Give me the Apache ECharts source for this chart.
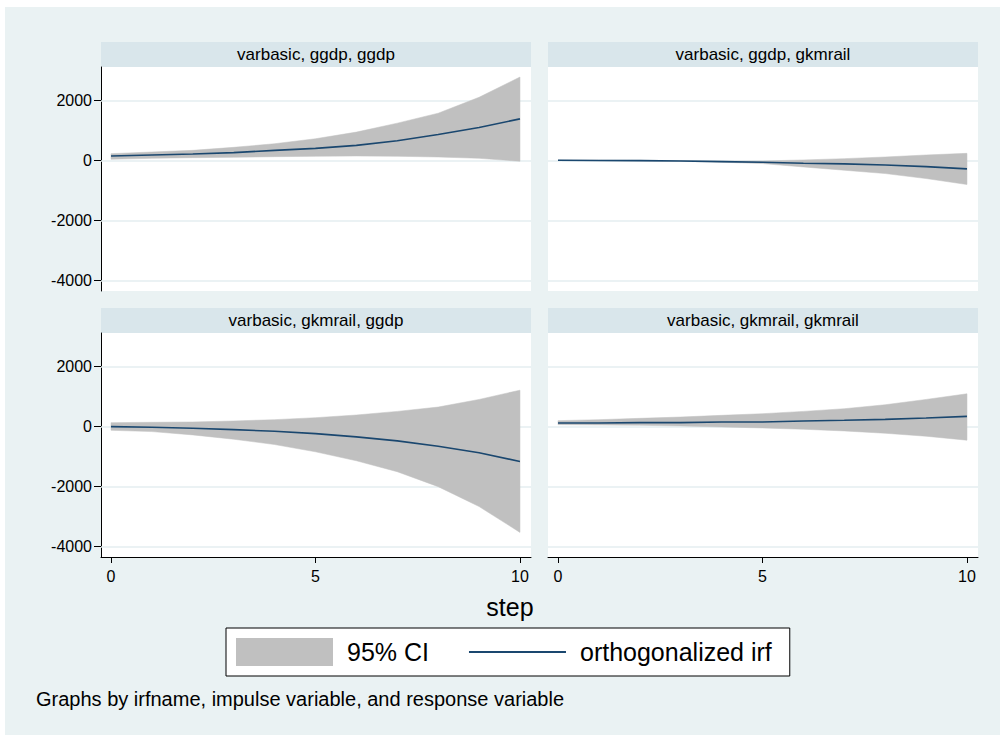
<!DOCTYPE html>
<html>
<head>
<meta charset="utf-8">
<script src="https://cdn.jsdelivr.net/npm/echarts@6/dist/echarts.min.js"></script>
<style>
  html, body { margin: 0; padding: 0; background: #ffffff; }
  #chart { width: 1000px; height: 735px; }
</style>
</head>
<body>
<div id="chart"></div>
<script>
// ---------------- data ----------------
const steps = [0, 1, 2, 3, 4, 5, 6, 7, 8, 9, 10];
const yTickValues = [-4000, -2000, 0, 2000];
const xTickValues = [0, 5, 10];
const panelTitles = [
  'varbasic, ggdp, ggdp',
  'varbasic, ggdp, gkmrail',
  'varbasic, gkmrail, ggdp',
  'varbasic, gkmrail, gkmrail'
];
const legendNames = ['95% CI', 'orthogonalized irf'];
const xTitle = 'step';
const noteText = 'Graphs by irfname, impulse variable, and response variable';

// impulse ggdp -> response ggdp
const irf_ggdp_ggdp   = [144, 177, 210, 254, 331, 398, 497, 652, 862, 1094, 1381];
const lower_ggdp_ggdp = [33, 66, 88, 99, 121, 133, 144, 133, 110, 66, -33];
const upper_ggdp_ggdp = [221, 276, 331, 431, 552, 718, 939, 1238, 1569, 2100, 2774];

// impulse ggdp -> response gkmrail
const irf_ggdp_gkmrail   = [0, -5, -11, -22, -44, -66, -100, -121, -155, -210, -287];
const lower_ggdp_gkmrail = [-3, -13, -22, -32, -64, -110, -221, -331, -442, -608, -807];
const upper_ggdp_gkmrail = [3, 3, 0, -12, -24, -22, 11, 55, 110, 177, 232];

// impulse gkmrail -> response ggdp
const irf_gkmrail_ggdp   = [-11, -33, -66, -110, -166, -243, -354, -486, -663, -884, -1171];
const lower_gkmrail_ggdp = [-133, -177, -287, -431, -608, -851, -1149, -1514, -2011, -2674, -3536];
const upper_gkmrail_ggdp = [122, 133, 144, 177, 221, 287, 376, 497, 641, 895, 1204];

// impulse gkmrail -> response gkmrail
const irf_gkmrail_gkmrail   = [110, 110, 122, 122, 144, 144, 177, 199, 232, 276, 331];
const lower_gkmrail_gkmrail = [55, 44, 33, 11, -22, -55, -99, -155, -232, -331, -464];
const upper_gkmrail_gkmrail = [188, 221, 265, 309, 365, 420, 497, 586, 718, 895, 1083];

// ---------------- layout / style ----------------
const FONT = '"Liberation Sans", Arial, Helvetica, sans-serif';
const panels = [
  { irf: irf_ggdp_ggdp, lo: lower_ggdp_ggdp, hi: upper_ggdp_ggdp },
  { irf: irf_ggdp_gkmrail, lo: lower_ggdp_gkmrail, hi: upper_ggdp_gkmrail },
  { irf: irf_gkmrail_ggdp, lo: lower_gkmrail_ggdp, hi: upper_gkmrail_ggdp },
  { irf: irf_gkmrail_gkmrail, lo: lower_gkmrail_gkmrail, hi: upper_gkmrail_gkmrail }
];
const boxes = [
  { left: 101, top: 67, width: 430, height: 224 },
  { left: 548, top: 67, width: 430, height: 224 },
  { left: 101, top: 333, width: 430, height: 224 },
  { left: 548, top: 333, width: 430, height: 224 }
];
const HEADER_H = 25;
const X_MIN = -0.245, X_MAX = 10.27;
const Y_MIN = -4356, Y_MAX = 3109;
const BG = '#eaf2f3', STRIP = '#d9e6eb', GRIDC = '#e4eef1';
const CI_COLOR = '#c0c0c0', IRF_COLOR = '#1a476f';

const pairs = (ys) => steps.map((s, i) => [s, ys[i]]);
const triples = (lo, hi) => steps.map((s, i) => [s, lo[i], hi[i]]);

const graphicEls = [
  { type: 'rect', z: -100, shape: { x: 5, y: 7, width: 995, height: 728 }, style: { fill: BG } }
];
boxes.forEach((b, i) => {
  graphicEls.push({ type: 'rect', z: -50, shape: { x: b.left, y: b.top - HEADER_H, width: b.width, height: HEADER_H }, style: { fill: STRIP } });
  graphicEls.push({ type: 'rect', z: -50, shape: { x: b.left, y: b.top, width: b.width, height: b.height }, style: { fill: '#ffffff' } });
  graphicEls.push({ type: 'text', z: 10, style: { text: panelTitles[i], x: b.left + b.width / 2, y: b.top - HEADER_H / 2, fill: '#000', fontSize: 17, fontFamily: FONT, textAlign: 'center', textVerticalAlign: 'middle' } });
});
graphicEls.push({ type: 'text', z: 10, style: { text: xTitle, x: 510, y: 607, fill: '#000', fontSize: 25, fontFamily: FONT, textAlign: 'center', textVerticalAlign: 'middle' } });
graphicEls.push({ type: 'text', z: 10, style: { text: noteText, x: 36, y: 699, fill: '#000', fontSize: 20, fontFamily: FONT, textAlign: 'left', textVerticalAlign: 'middle' } });

const grids = boxes.map(b => ({ left: b.left, top: b.top, width: b.width, height: b.height, containLabel: false, show: false }));

const xAxes = boxes.map((b, i) => {
  const bottom = i >= 2;
  return {
    type: 'value', gridIndex: i, min: X_MIN, max: X_MAX, show: bottom,
    axisLine: { show: bottom, onZero: false, lineStyle: { color: '#000', width: 1 } },
    axisTick: { show: bottom, customValues: xTickValues, length: 6, lineStyle: { color: '#000', width: 1 } },
    axisLabel: { show: bottom, customValues: xTickValues, margin: 11, fontSize: 16, color: '#000', fontFamily: FONT, formatter: v => String(v) },
    splitLine: { show: false }
  };
});
const yAxes = boxes.map((b, i) => {
  const left = (i % 2) === 0;
  return {
    type: 'value', gridIndex: i, min: Y_MIN, max: Y_MAX, show: left,
    axisLine: { show: left, onZero: false, lineStyle: { color: '#000', width: 1 } },
    axisTick: { show: left, customValues: yTickValues, length: 7, lineStyle: { color: '#000', width: 1 } },
    axisLabel: { show: left, customValues: yTickValues, margin: 9, fontSize: 16, color: '#000', fontFamily: FONT, formatter: v => String(v) },
    splitLine: { show: false }
  };
});

function renderBand(params, api) {
  if (params.dataIndexInside !== 0) return null;
  const n = params.dataInsideLength;
  const pts = [];
  for (let k = 0; k < n; k++) pts.push(api.coord([api.value(0, k), api.value(2, k)]));
  for (let k = n - 1; k >= 0; k--) pts.push(api.coord([api.value(0, k), api.value(1, k)]));
  return {
    type: 'polygon',
    shape: { points: pts },
    style: { fill: CI_COLOR, stroke: CI_COLOR, lineWidth: 0.5 }
  };
}

const series = [];
panels.forEach((p, i) => {
  series.push({
    name: legendNames[0], type: 'custom', xAxisIndex: i, yAxisIndex: i,
    data: triples(p.lo, p.hi), encode: { x: 0, y: [1, 2] },
    itemStyle: { color: CI_COLOR }, renderItem: renderBand,
    silent: true, z: 2
  });
  series.push({
    name: legendNames[1], type: 'line', xAxisIndex: i, yAxisIndex: i,
    data: pairs(p.irf), symbol: 'none', color: IRF_COLOR,
    lineStyle: { color: IRF_COLOR, width: 1.6 }, z: 3,
    markLine: {
      silent: true, symbol: 'none', z: 1, animation: false,
      label: { show: false },
      lineStyle: { color: GRIDC, width: 1.5, type: 'solid' },
      emphasis: { disabled: true },
      data: yTickValues.map(v => ({ yAxis: v }))
    }
  });
});

const option = {
  animation: false,
  backgroundColor: 'transparent',
  graphic: { elements: graphicEls },
  legend: {
    left: 226, top: 628, orient: 'horizontal',
    padding: [10, 18, 10, 10], itemGap: 39, itemWidth: 97, itemHeight: 28,
    backgroundColor: '#ffffff', borderColor: '#000', borderWidth: 1, borderRadius: 0,
    selectedMode: false,
    textStyle: { fontSize: 25, color: '#000', fontFamily: FONT, padding: [0, 0, 0, 9] },
    data: [
      { name: legendNames[0], icon: 'rect', itemStyle: { color: CI_COLOR } },
      { name: legendNames[1], itemStyle: { opacity: 0 }, lineStyle: { color: IRF_COLOR, width: 2 } }
    ]
  },
  grid: grids,
  xAxis: xAxes,
  yAxis: yAxes,
  series: series
};

const chart = echarts.init(document.getElementById('chart'), null, { renderer: 'svg' });
chart.setOption(option);
</script>
</body>
</html>
